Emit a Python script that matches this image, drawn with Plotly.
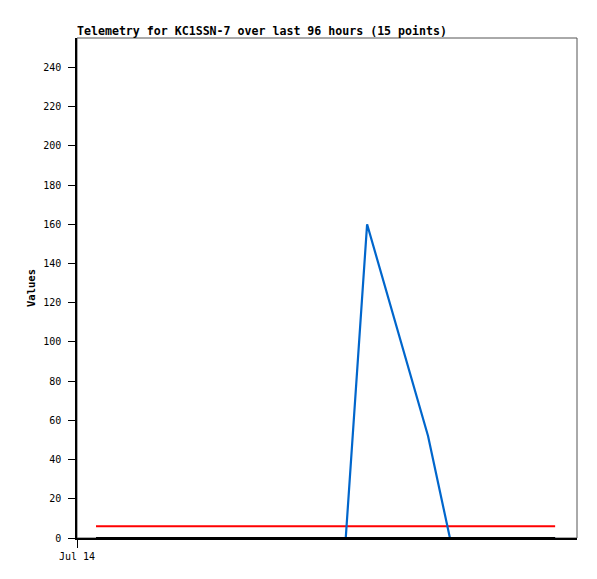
import plotly.graph_objects as go

# sample times (15 points) and values
times = ["2024-07-14 03:39", "2024-07-14 12:00", "2024-07-14 22:00", "2024-07-15 08:00",
         "2024-07-15 18:00", "2024-07-16 03:36", "2024-07-16 07:42", "2024-07-16 13:30",
         "2024-07-16 19:24", "2024-07-16 23:36", "2024-07-17 04:00", "2024-07-17 09:00",
         "2024-07-17 14:00", "2024-07-17 17:00", "2024-07-17 19:48"]
blue_vals = [0, 0, 0, 0, 0, 0, 160, 106, 52, 0, 0, 0, 0, 0, 0]
red_vals = [6] * 15
black_vals = [0] * 15

y_ticks = list(range(0, 241, 20))
x_tick = ["2024-07-14 00:00"]
x_tick_text = ["Jul 14"]

mono = "DejaVu Sans Mono"

fig = go.Figure()
fig.add_trace(go.Scatter(x=times, y=red_vals, mode="lines",
                         line={"color": "#ff0000", "width": 2.2}, showlegend=False))
fig.add_trace(go.Scatter(x=times, y=blue_vals, mode="lines",
                         line={"color": "#0066cc", "width": 2.2}, showlegend=False))
fig.add_trace(go.Scatter(x=times, y=black_vals, mode="lines",
                         line={"color": "#000000", "width": 2.2}, showlegend=False))

# gray frame around plot area (top/right edges)
fig.add_shape(type="rect", xref="paper", yref="paper", x0=0, y0=0, x1=1, y1=1,
              line={"color": "#555555", "width": 1}, layer="below")

# page body adds 8px offset, so the figure is 8px smaller and margins shifted
fig.update_layout(
    width=589, height=571,
    margin={"l": 69, "r": 20, "t": 30, "b": 41},
    plot_bgcolor="white", paper_bgcolor="white",
    title={"text": "<b>Telemetry for KC1SSN-7 over last 96 hours (15 points)</b>",
           "x": 69 / 589, "xanchor": "left", "y": 1 - 23 / 571, "yanchor": "middle",
           "font": {"family": mono, "size": 11.6, "color": "black"}},
    xaxis={"type": "date", "range": ["2024-07-14 00:00", "2024-07-18 00:00"],
           "tickvals": x_tick, "ticktext": x_tick_text,
           "ticks": "outside", "ticklen": 8, "tickcolor": "black",
           "showline": True, "linecolor": "black", "linewidth": 1.5,
           "showgrid": False, "zeroline": False,
           "tickfont": {"family": mono, "size": 10, "color": "black"}},
    yaxis={"range": [0, 255], "tickvals": y_ticks,
           "ticks": "outside", "ticklen": 7, "tickcolor": "black",
           "ticklabelstandoff": 5,
           "showline": True, "linecolor": "black", "linewidth": 1.5,
           "showgrid": False, "zeroline": False,
           "title": {"text": "<b>Values</b>", "standoff": 6,
                     "font": {"family": mono, "size": 10.5, "color": "black"}},
           "tickfont": {"family": mono, "size": 10, "color": "black"}},
)

fig.write_html("out.html")
